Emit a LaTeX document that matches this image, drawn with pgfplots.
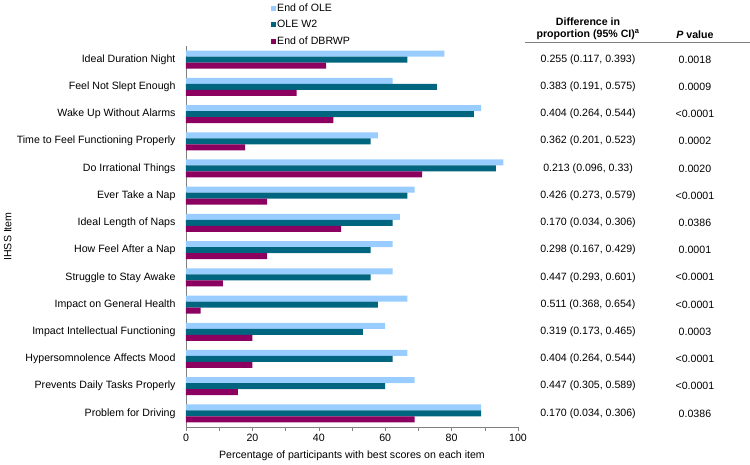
\documentclass[border=0pt]{standalone}
\usepackage{fontspec}
\setmainfont{Liberation Sans}
\usepackage{pgfplots}
\usepackage{pgfplotstable}
\pgfplotsset{compat=1.18}

\definecolor{oleend}{RGB}{153,204,255}
\definecolor{olew2}{RGB}{0,102,128}
\definecolor{dbrwp}{RGB}{140,0,96}
\definecolor{axgray}{RGB}{128,128,128}

% percentages with best score, one row per IHSS item (13 = top row)
\pgfplotstableread{
y  ole   w2    db
13 77.8  66.7  42.2
12 62.2  75.6  33.3
11 88.9  86.7  44.4
10 57.8  55.6  17.8
9  95.6  93.3  71.1
8  68.9  66.7  24.4
7  64.4  62.2  46.7
6  62.2  55.6  24.4
5  62.2  55.6  11.1
4  66.7  57.8  4.4
3  60.0  53.3  20.0
2  66.7  62.2  20.0
1  68.9  60.0  15.6
0  88.9  88.9  68.9
}\ihss

\newcommand{\fs}{\fontsize{10.6}{12}\selectfont}
\newcommand{\trow}[3]{%
  \node[font=\fs] at (axis cs:121.1,#1) {#2};
  \node[font=\fs] at (axis cs:153.3,#1) {#3};}

\begin{document}
\begin{tikzpicture}
\useasboundingbox (0,0) rectangle (750pt,464pt);
\begin{axis}[
  at={(186pt,37pt)}, anchor=south west,
  scale only axis, width=332pt, height=381pt,
  xbar, bar width=6pt,
  xmin=0, xmax=100, ymin=-0.5, ymax=13.5,
  axis x line*=bottom, axis y line*=left,
  axis line style={axgray},
  xtick={0,20,...,100}, minor xtick={10,30,...,90},
  tick align=outside, major tick length=4pt, minor tick length=4pt,
  every tick/.style={axgray},
  ytick={0,...,13},
  yticklabels={Problem for Driving, Prevents Daily Tasks Properly,
    Hypersomnolence Affects Mood, Impact Intellectual Functioning,
    Impact on General Health, Struggle to Stay Awake, How Feel After a Nap,
    Ideal Length of Naps, Ever Take a Nap, Do Irrational Things,
    Time to Feel Functioning Properly, Wake Up Without Alarms,
    Feel Not Slept Enough, Ideal Duration Night},
  ytick style={draw=none},
  yticklabel style={xshift=-3pt},
  tick label style={font=\fs},
  /pgf/number format/assume math mode=true,
  xlabel={Percentage of participants with best scores on each item},
  ylabel={IHSS Item},
  label style={font=\fs},
  xlabel style={at={(axis description cs:0.5,-0.076)}, anchor=center},
  ylabel style={at={(axis description cs:-0.537,0.5)}, anchor=center},
  clip=false,
  legend style={at={(axis description cs:0.247,1.12)}, anchor=north west,
    draw=none, fill=none, font=\fs, nodes={inner sep=1pt}, row sep=5.5pt},
  legend cell align=left,
  legend image code/.code={\fill[#1] (0pt,-2.5pt) rectangle (5pt,2.5pt);},
]
\addplot[fill=oleend, draw=none, bar shift=6pt] table[x=ole, y=y] {\ihss};
\addplot[fill=olew2, draw=none, bar shift=0pt] table[x=w2, y=y] {\ihss};
\addplot[fill=dbrwp, draw=none, bar shift=-6pt] table[x=db, y=y] {\ihss};
\legend{End of OLE, OLE W2, End of DBRWP}

% table on the right
\node[font=\fs\bfseries, align=center] at (axis cs:121.1,14.125)
  {Difference in\\proportion (95\% CI)\textsuperscript{a}};
\node[font=\fs\bfseries] at (axis cs:153.3,13.90) {\textit{P} value};
\draw[axgray] (axis cs:102,13.65) -- (axis cs:170,13.65);
\trow{13}{0.255 (0.117, 0.393)}{0.0018}
\trow{12}{0.383 (0.191, 0.575)}{0.0009}
\trow{11}{0.404 (0.264, 0.544)}{<0.0001}
\trow{10}{0.362 (0.201, 0.523)}{0.0002}
\trow{9}{0.213 (0.096, 0.33)}{0.0020}
\trow{8}{0.426 (0.273, 0.579)}{<0.0001}
\trow{7}{0.170 (0.034, 0.306)}{0.0386}
\trow{6}{0.298 (0.167, 0.429)}{0.0001}
\trow{5}{0.447 (0.293, 0.601)}{<0.0001}
\trow{4}{0.511 (0.368, 0.654)}{<0.0001}
\trow{3}{0.319 (0.173, 0.465)}{0.0003}
\trow{2}{0.404 (0.264, 0.544)}{<0.0001}
\trow{1}{0.447 (0.305, 0.589)}{<0.0001}
\trow{0}{0.170 (0.034, 0.306)}{0.0386}
\end{axis}
\end{tikzpicture}
\end{document}
